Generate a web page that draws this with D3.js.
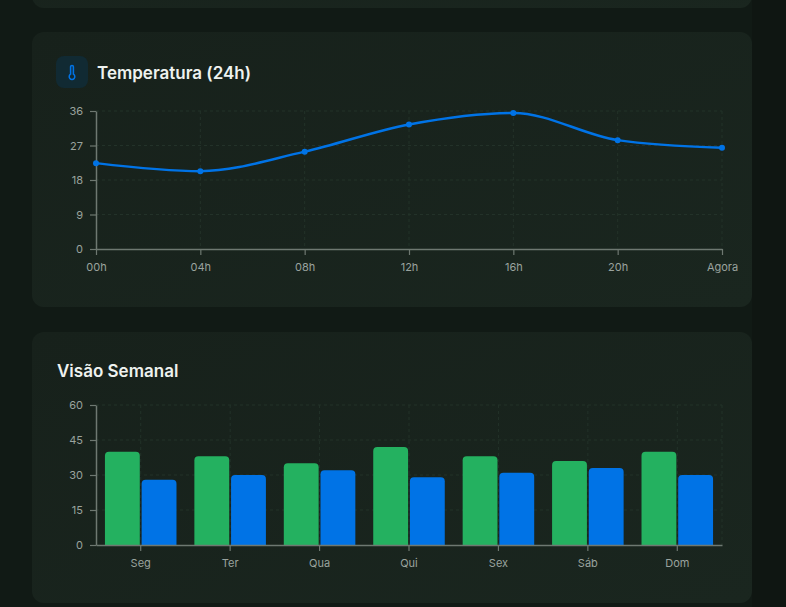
<!DOCTYPE html>
<html>
<head>
<meta charset="utf-8">
<script src="https://cdn.jsdelivr.net/npm/d3@7"></script>
<style>
  html, body { margin: 0; padding: 0; background: #111a15; }
  body { width: 786px; height: 607px; overflow: hidden; font-family: Inter, "Noto Sans", sans-serif; }
  .tick text { font-family: Inter, sans-serif; }
</style>
</head>
<body>
<div id="chart"></div>
<script>
// temperature, last 24h
var hours = ["00h", "04h", "08h", "12h", "16h", "20h", "Agora"];
var temps = [22.4, 20.3, 25.4, 32.5, 35.5, 28.4, 26.4];
var tempTicks = [0, 9, 18, 27, 36];

// weekly overview
var days = ["Seg", "Ter", "Qua", "Qui", "Sex", "Sáb", "Dom"];
var series = ["serieA", "serieB"];
var serieA = [40, 38, 35, 42, 38, 36, 40];
var serieB = [28, 30, 32, 29, 31, 33, 30];
var weekTicks = [0, 15, 30, 45, 60];

var width = 786, height = 607;
var gridColor = "#233229";
var axisColor = "#6e7871";
var labelColor = "#9aa39e";
var blue = "#0073e6";
var green = "#24b160";

var svg = d3.select("#chart").append("svg")
    .attr("width", width)
    .attr("height", height);

var defs = svg.append("defs");
var cardGrad = defs.append("linearGradient")
    .attr("id", "cardGrad")
    .attr("x1", "0%").attr("y1", "0%")
    .attr("x2", "100%").attr("y2", "100%");
cardGrad.append("stop").attr("offset", "0%").attr("stop-color", "#17211b");
cardGrad.append("stop").attr("offset", "100%").attr("stop-color", "#1a261f");

svg.append("rect").attr("width", width).attr("height", height).attr("fill", "#111a15");
svg.append("rect").attr("x", 752).attr("width", 34).attr("height", height).attr("fill", "#0f1612");

//////// cards
svg.append("rect").attr("x", 32).attr("y", -40).attr("width", 720).attr("height", 48)
    .attr("rx", 12).attr("fill", "url(#cardGrad)");
svg.append("rect").attr("x", 32).attr("y", 32).attr("width", 720).attr("height", 275)
    .attr("rx", 12).attr("fill", "url(#cardGrad)");
svg.append("rect").attr("x", 32).attr("y", 332).attr("width", 720).attr("height", 271)
    .attr("rx", 12).attr("fill", "url(#cardGrad)");

//////// temperature header
svg.append("rect").attr("x", 56).attr("y", 56).attr("width", 32).attr("height", 32)
    .attr("rx", 8).attr("fill", "#112a33");
svg.append("path")
    .attr("d", "M14 4v10.54a4 4 0 1 1-4 0V4a2 2 0 0 1 4 0Z")
    .attr("transform", "translate(63.6,64) scale(0.7)")
    .attr("fill", "none")
    .attr("stroke", blue)
    .attr("stroke-width", 2.2)
    .attr("stroke-linecap", "round")
    .attr("stroke-linejoin", "round");
svg.append("text").attr("x", 97).attr("y", 79)
    .text("Temperatura (24h)")
    .attr("font-size", "17px").attr("font-weight", 600).attr("fill", "#eef2ef");

//////// temperature chart
var tx = d3.scalePoint().domain(hours).range([96, 722]);
var ty = d3.scaleLinear().domain([0, 36]).range([249, 111]);

var tGrid = svg.append("g").attr("stroke", gridColor).attr("stroke-dasharray", "3 3");
tGrid.selectAll("line.h").data(tempTicks.slice(1)).enter().append("line")
    .attr("x1", 96).attr("x2", 722)
    .attr("y1", function(d) { return ty(d); }).attr("y2", function(d) { return ty(d); });
tGrid.selectAll("line.v").data(hours.slice(1)).enter().append("line")
    .attr("x1", function(d) { return tx(d); }).attr("x2", function(d) { return tx(d); })
    .attr("y1", 111).attr("y2", 249);

function styleAxis(g) {
    g.select(".domain").attr("stroke", axisColor).attr("stroke-width", 1.5);
    g.selectAll(".tick line").attr("stroke", axisColor).attr("stroke-width", 1.2);
    g.selectAll(".tick text").attr("fill", labelColor).attr("font-size", "11px");
}

svg.append("g").attr("transform", "translate(0,249)")
    .call(d3.axisBottom(tx).tickSize(6).tickSizeOuter(0).tickPadding(8))
    .call(styleAxis);
svg.append("g").attr("transform", "translate(96,0)")
    .call(d3.axisLeft(ty).tickValues(tempTicks).tickSize(6).tickSizeOuter(0).tickPadding(7))
    .call(styleAxis);

var line = d3.line()
    .x(function(d, i) { return tx(hours[i]); })
    .y(function(d) { return ty(d); })
    .curve(d3.curveMonotoneX);

svg.append("path").datum(temps)
    .attr("d", line)
    .attr("fill", "none")
    .attr("stroke", blue)
    .attr("stroke-width", 2.5);

svg.selectAll("circle.temp").data(temps).enter().append("circle")
    .attr("cx", function(d, i) { return tx(hours[i]); })
    .attr("cy", function(d) { return ty(d); })
    .attr("r", 3)
    .attr("fill", blue);

//////// weekly header
svg.append("text").attr("x", 57).attr("y", 377)
    .text("Visão Semanal")
    .attr("font-size", "17px").attr("font-weight", 600).attr("fill", "#eef2ef");

//////// weekly chart
var bx = d3.scaleBand().domain(days).range([96, 722]);
var by = d3.scaleLinear().domain([0, 60]).range([545, 405]);
var bw = bx.bandwidth();
var sub = d3.scaleBand().domain(series).range([bw * 0.1, bw * 0.9]).paddingInner(0.05);

var bGrid = svg.append("g").attr("stroke", gridColor).attr("stroke-dasharray", "3 3");
bGrid.selectAll("line.h").data(weekTicks.slice(1)).enter().append("line")
    .attr("x1", 96).attr("x2", 722)
    .attr("y1", function(d) { return by(d); }).attr("y2", function(d) { return by(d); });
bGrid.selectAll("line.v").data(days).enter().append("line")
    .attr("x1", function(d) { return bx(d) + bw / 2; }).attr("x2", function(d) { return bx(d) + bw / 2; })
    .attr("y1", 405).attr("y2", 545);
bGrid.append("line").attr("x1", 722).attr("x2", 722).attr("y1", 405).attr("y2", 545);

// bar with rounded top corners
function topRounded(x, y, w, h, r) {
    r = Math.min(r, h, w / 2);
    return "M" + x + "," + (y + h) +
        "V" + (y + r) +
        "Q" + x + "," + y + " " + (x + r) + "," + y +
        "H" + (x + w - r) +
        "Q" + (x + w) + "," + y + " " + (x + w) + "," + (y + r) +
        "V" + (y + h) + "Z";
}

var values = { serieA: serieA, serieB: serieB };
var colors = { serieA: green, serieB: blue };

series.forEach(function(s) {
    svg.selectAll("path.bar-" + s).data(values[s]).enter().append("path")
        .attr("class", "bar-" + s)
        .attr("d", function(d, i) {
            var x = bx(days[i]) + sub(s);
            return topRounded(x, by(d), sub.bandwidth(), by(0) - by(d), 4);
        })
        .attr("fill", colors[s]);
});

svg.append("g").attr("transform", "translate(0,545)")
    .call(d3.axisBottom(bx).tickSize(6).tickSizeOuter(0).tickPadding(8))
    .call(styleAxis);
svg.append("g").attr("transform", "translate(96,0)")
    .call(d3.axisLeft(by).tickValues(weekTicks).tickSize(6).tickSizeOuter(0).tickPadding(7))
    .call(styleAxis);
</script>
</body>
</html>
